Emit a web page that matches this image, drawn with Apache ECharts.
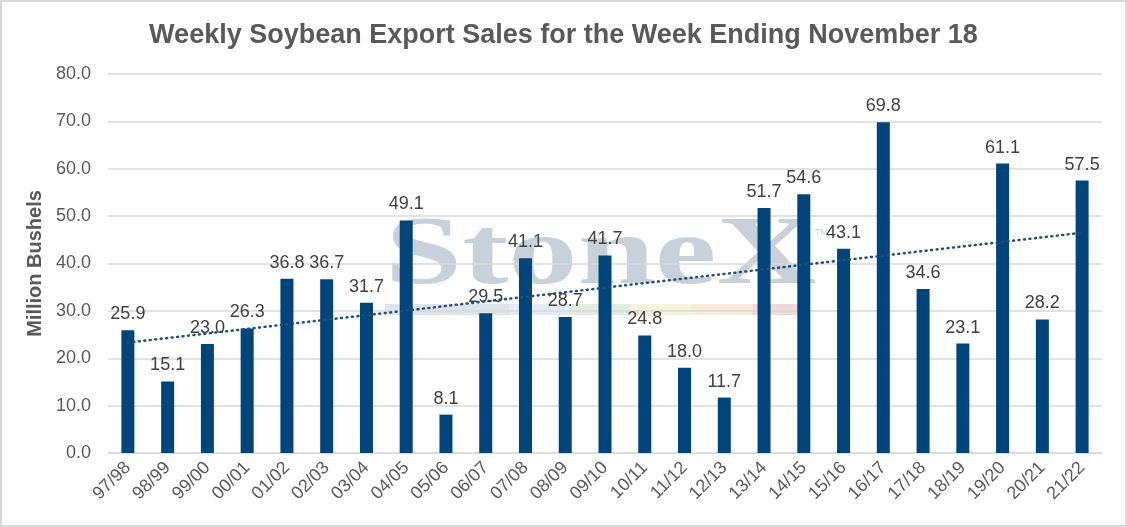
<!DOCTYPE html>
<html>
<head>
<meta charset="utf-8">
<script src="https://cdn.jsdelivr.net/npm/echarts@6/dist/echarts.min.js"></script>
<style>
  html, body { margin: 0; padding: 0; background: #fff; }
  #chart { width: 1127px; height: 527px; box-sizing: border-box; border: 2px solid #d9d9d9; }
</style>
</head>
<body>
<div id="chart"></div>
<script>
var years = ['97/98','98/99','99/00','00/01','01/02','02/03','03/04','04/05','05/06','06/07',
             '07/08','08/09','09/10','10/11','11/12','12/13','13/14','14/15','15/16','16/17',
             '17/18','18/19','19/20','20/21','21/22'];
var sales = [25.9, 15.1, 23.0, 26.3, 36.8, 36.7, 31.7, 49.1, 8.1, 29.5,
             41.1, 28.7, 41.7, 24.8, 18.0, 11.7, 51.7, 54.6, 43.1, 69.8,
             34.6, 23.1, 61.1, 28.2, 57.5];
// trend line end points
var trendYears = ['97/98', '21/22'];
var trendValues = [23.3, 46.5];

var myChart = echarts.init(document.getElementById('chart'));

var font = 'Arial, "Liberation Sans", sans-serif';
var option = {
    animation: false,
    title: {
        text: 'Weekly Soybean Export Sales for the Week Ending November 18',
        left: 'center',
        top: 15,
        textStyle: { fontFamily: font, fontSize: 27, fontWeight: 'bold', color: '#595959' }
    },
    grid: { left: 106, right: 23, top: 72, bottom: 72 },
    graphic: [
        {
            type: 'text', x: 383, y: 207, scaleX: 1.43, z: 0, silent: true,
            style: { text: 'StoneX', font: 'bold 97px "Liberation Serif", "DejaVu Serif", serif', fill: '#c8d0da' }
        },
        {
            type: 'text', x: 813, y: 226, z: 0, silent: true,
            style: { text: 'TM', font: '9px Arial, "Liberation Sans"', fill: '#c8d0da' }
        },
        { type: 'rect', z: 0, silent: true, shape: { x: 383, y: 302, width: 124, height: 11 }, style: { fill: '#dfe4ea' } },
        { type: 'rect', z: 0, silent: true, shape: { x: 507, y: 302, width: 60, height: 11 }, style: { fill: '#e2ecf5' } },
        { type: 'rect', z: 0, silent: true, shape: { x: 567, y: 302, width: 61, height: 11 }, style: { fill: '#e1ece1' } },
        { type: 'rect', z: 0, silent: true, shape: { x: 628, y: 302, width: 61, height: 11 }, style: { fill: '#f7f4dc' } },
        { type: 'rect', z: 0, silent: true, shape: { x: 689, y: 302, width: 61, height: 11 }, style: { fill: '#f8ebd8' } },
        { type: 'rect', z: 0, silent: true, shape: { x: 750, y: 302, width: 50, height: 11 }, style: { fill: '#f2d9d9' } }
    ],
    xAxis: {
        type: 'category',
        data: years,
        axisTick: { show: false },
        axisLine: { lineStyle: { color: '#d9d9d9', width: 1.5 } },
        axisLabel: { rotate: 45, color: '#595959', fontSize: 18, fontFamily: font, margin: 12 }
    },
    yAxis: {
        type: 'value',
        min: 0, max: 80, interval: 10,
        name: 'Million Bushels',
        nameLocation: 'middle',
        nameGap: 63,
        nameTextStyle: { fontFamily: font, fontSize: 20, fontWeight: 'bold', color: '#595959' },
        axisLine: { show: false },
        axisTick: { show: false },
        splitLine: { lineStyle: { color: '#d9d9d9', width: 1.5 } },
        axisLabel: {
            color: '#595959', fontSize: 18, fontFamily: font, margin: 17,
            formatter: function (v) { return v.toFixed(1); }
        }
    },
    series: [
        {
            type: 'bar',
            data: sales,
            barWidth: 13,
            itemStyle: { color: '#00447c' },
            label: {
                show: true, position: 'top', distance: 7,
                color: '#404040', fontSize: 18, fontFamily: font,
                formatter: function (p) { return p.value.toFixed(1); }
            },
            z: 3
        },
        {
            type: 'line',
            data: [[trendYears[0], trendValues[0]], [trendYears[1], trendValues[1]]],
            symbol: 'none',
            lineStyle: { color: '#1f4e79', width: 2.5, type: [1, 4.5], cap: 'round' },
            silent: true,
            z: 4
        }
    ]
};
myChart.setOption(option);
</script>
</body>
</html>
